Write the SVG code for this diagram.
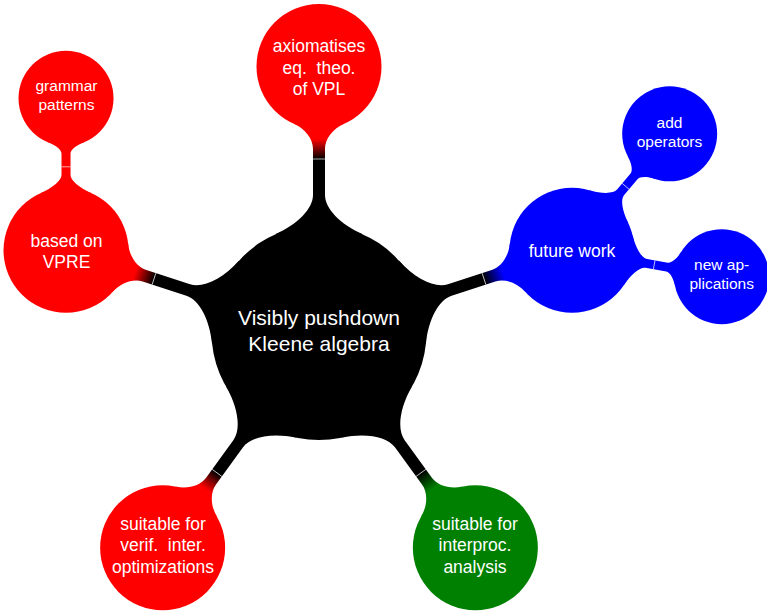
<svg xmlns="http://www.w3.org/2000/svg" width="767" height="611" viewBox="0 0 767 611">
<style>
.t{font-family:"Liberation Sans",Arial,Helvetica,sans-serif;fill:#fff;text-anchor:middle}
.t0{font-size:21px}
.t1{font-size:17.5px}
.t2{font-size:15.5px}
.wl{stroke:#fff;stroke-width:0.8;opacity:0.85}
</style>
<defs>
<linearGradient id="gR" gradientUnits="userSpaceOnUse" x1="173.5" y1="0" x2="193.5" y2="0"><stop offset="0" stop-color="#000"/><stop offset="1" stop-color="#f00"/></linearGradient>
<linearGradient id="gB" gradientUnits="userSpaceOnUse" x1="173.5" y1="0" x2="193.5" y2="0"><stop offset="0" stop-color="#000"/><stop offset="1" stop-color="#00f"/></linearGradient>
<linearGradient id="gG" gradientUnits="userSpaceOnUse" x1="173.5" y1="0" x2="193.5" y2="0"><stop offset="0" stop-color="#000"/><stop offset="1" stop-color="#008000"/></linearGradient>
</defs>
<rect width="767" height="611" fill="#fff"/>
<g id="connectors">
<g transform="translate(319 332.5) rotate(-90)"><path fill="url(#gR)" d="M98.2 43.72C108.27 21.09 123.99 6 137.5 6L183.5 6C193.56 6 203.72 13.77 208.91 25.42L230 0L208.91 -25.42C203.72 -13.77 193.56 -6 183.5 -6L137.5 -6C123.99 -6 108.27 -21.09 98.2 -43.72L80 0Z"/><line class="wl" x1="173.5" y1="-6" x2="173.5" y2="6"/></g>
<g transform="translate(319 332.5) rotate(-18)"><path fill="url(#gB)" d="M98.2 43.72C108.27 21.09 123.99 6 137.5 6L183.5 6C193.56 6 203.72 13.77 208.91 25.42L230 0L208.91 -25.42C203.72 -13.77 193.56 -6 183.5 -6L137.5 -6C123.99 -6 108.27 -21.09 98.2 -43.72L80 0Z"/><line class="wl" x1="173.5" y1="-6" x2="173.5" y2="6"/></g>
<g transform="translate(319 332.5) rotate(-162)"><path fill="url(#gR)" d="M98.2 43.72C108.27 21.09 123.99 6 137.5 6L183.5 6C193.56 6 203.72 13.77 208.91 25.42L230 0L208.91 -25.42C203.72 -13.77 193.56 -6 183.5 -6L137.5 -6C123.99 -6 108.27 -21.09 98.2 -43.72L80 0Z"/><line class="wl" x1="173.5" y1="-6" x2="173.5" y2="6"/></g>
<g transform="translate(319 332.5) rotate(54)"><path fill="url(#gG)" d="M98.2 43.72C108.27 21.09 123.99 6 137.5 6L183.5 6C193.56 6 203.72 13.77 208.91 25.42L230 0L208.91 -25.42C203.72 -13.77 193.56 -6 183.5 -6L137.5 -6C123.99 -6 108.27 -21.09 98.2 -43.72L80 0Z"/><line class="wl" x1="173.5" y1="-6" x2="173.5" y2="6"/></g>
<g transform="translate(319 332.5) rotate(126)"><path fill="url(#gR)" d="M98.2 43.72C108.27 21.09 123.99 6 137.5 6L183.5 6C193.56 6 203.72 13.77 208.91 25.42L230 0L208.91 -25.42C203.72 -13.77 193.56 -6 183.5 -6L137.5 -6C123.99 -6 108.27 -21.09 98.2 -43.72L80 0Z"/><line class="wl" x1="173.5" y1="-6" x2="173.5" y2="6"/></g>
<g transform="translate(66.02 250.3) rotate(-90)"><path fill="#f00" d="M57.09 25.42C62.68 12.87 70.04 4.5 75.5 4.5L96.5 4.5C100.15 4.5 104.74 9.82 107.96 17.79L125 0L107.96 -17.79C104.74 -9.82 100.15 -4.5 96.5 -4.5L75.5 -4.5C70.04 -4.5 62.68 -12.87 57.09 -25.42L40 0Z"/><line class="wl" x1="83.5" y1="-4.5" x2="83.5" y2="4.5"/></g>
<g transform="translate(571.98 250.3) rotate(-50)"><path fill="#00f" d="M57.09 25.42C62.68 12.87 70.04 4.5 75.5 4.5L96.5 4.5C100.15 4.5 104.74 9.82 107.96 17.79L125 0L107.96 -17.79C104.74 -9.82 100.15 -4.5 96.5 -4.5L75.5 -4.5C70.04 -4.5 62.68 -12.87 57.09 -25.42L40 0Z"/><line class="wl" x1="83.5" y1="-4.5" x2="83.5" y2="4.5"/></g>
<g transform="translate(571.98 250.3) rotate(10)"><path fill="#00f" d="M57.09 25.42C62.68 12.87 70.04 4.5 75.5 4.5L96.5 4.5C100.15 4.5 104.74 9.82 107.96 17.79L125 0L107.96 -17.79C104.74 -9.82 100.15 -4.5 96.5 -4.5L75.5 -4.5C70.04 -4.5 62.68 -12.87 57.09 -25.42L40 0Z"/><line class="wl" x1="83.5" y1="-4.5" x2="83.5" y2="4.5"/></g>
</g>
<g id="root">
<circle cx="319" cy="332.5" r="107.5" fill="#000"/>
<text class="t t0" x="319" y="325">Visibly pushdown</text>
<text class="t t0" x="319" y="351">Kleene algebra</text>
</g>
<g id="axiomatises">
<circle cx="319" cy="66.5" r="62.5" fill="#f00"/>
<text class="t t1" x="319" y="52.2">axiomatises</text>
<text class="t t1" x="319" y="73.6">eq.&#160; theo.</text>
<text class="t t1" x="319" y="95">of VPL</text>
</g>
<g id="future">
<circle cx="571.98" cy="250.3" r="62.5" fill="#00f"/>
<text class="t t1" x="572" y="256.6">future work</text>
</g>
<g id="vpre">
<circle cx="66.02" cy="250.3" r="62.5" fill="#f00"/>
<text class="t t1" x="66.5" y="246.5">based on</text>
<text class="t t1" x="66.5" y="267.5">VPRE</text>
</g>
<g id="interproc">
<circle cx="475.35" cy="547.7" r="62.5" fill="#008000"/>
<text class="t t1" x="475" y="529.5">suitable for</text>
<text class="t t1" x="475" y="551">interproc.</text>
<text class="t t1" x="475" y="572.5">analysis</text>
</g>
<g id="verif">
<circle cx="162.65" cy="547.7" r="62.5" fill="#f00"/>
<text class="t t1" x="163" y="529.5">suitable for</text>
<text class="t t1" x="163" y="551">verif.&#160; inter.</text>
<text class="t t1" x="163" y="572.5">optimizations</text>
</g>
<g id="grammar">
<circle cx="66.02" cy="98.3" r="47.5" fill="#f00"/>
<text class="t t2" x="66.5" y="91">grammar</text>
<text class="t t2" x="66.5" y="110.2">patterns</text>
</g>
<g id="operators">
<circle cx="669.68" cy="133.86" r="47.5" fill="#00f"/>
<text class="t t2" x="669.5" y="127.8">add</text>
<text class="t t2" x="669.5" y="146.5">operators</text>
</g>
<g id="applications">
<circle cx="721.67" cy="276.69" r="47.5" fill="#00f"/>
<text class="t t2" x="721.7" y="269.6">new ap-</text>
<text class="t t2" x="721.7" y="288.8">plications</text>
</g>
</svg>
